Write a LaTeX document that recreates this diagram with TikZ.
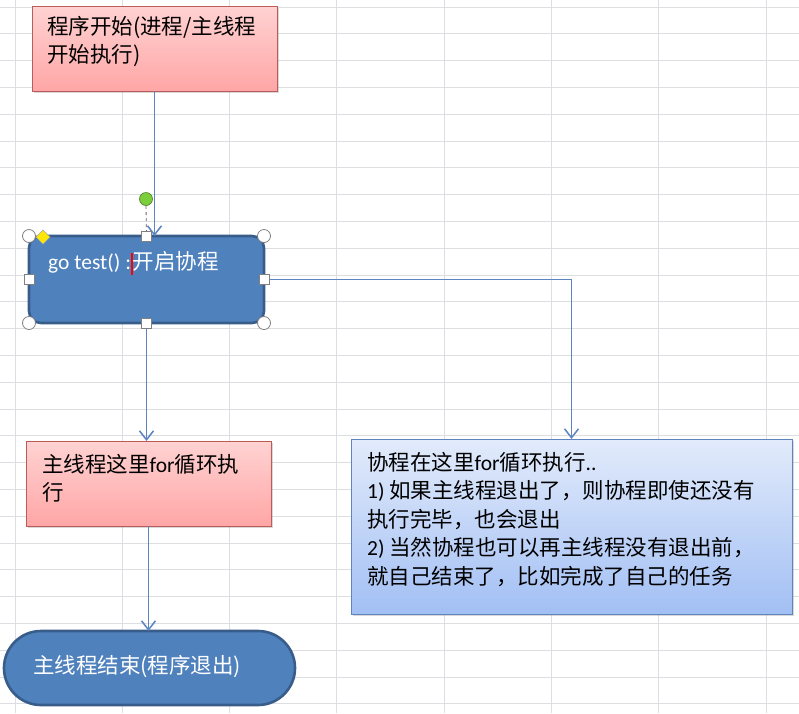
\documentclass[tikz,border=0pt]{standalone}
\usepackage{fontspec}
\setmainfont{Carlito}
\newfontfamily\cjk{Noto Sans CJK SC}
\usepackage{tikz}
\usetikzlibrary{arrows.meta,shadows}
\definecolor{gridgray}{RGB}{220,222,226}
\definecolor{flowline}{RGB}{92,132,192}
\definecolor{pinktop}{RGB}{255,210,210}
\definecolor{pinkbot}{RGB}{255,166,166}
\definecolor{pinkedge}{RGB}{186,92,90}
\definecolor{skytop}{RGB}{226,235,251}
\definecolor{skybot}{RGB}{162,191,244}
\definecolor{skyedge}{RGB}{96,132,190}
\definecolor{shapeblue}{RGB}{79,129,189}
\definecolor{shapeedge}{RGB}{56,93,138}
\definecolor{rotgreen}{RGB}{124,206,60}
\newcommand\lat[1]{{\rmfamily#1}}

\begin{document}
\begin{tikzpicture}[x=1pt,y=-1pt,>={Straight Barb[length=9pt,width=14pt]},
 boxshadow/.style={drop shadow={shadow xshift=2pt,shadow yshift=-2pt,opacity=.3}},
 pinkbox/.style={draw=pinkedge,line width=1pt,top color=pinktop,bottom color=pinkbot,boxshadow,inner sep=0pt,outer sep=0pt,anchor=north west},
 skybox/.style={draw=skyedge,line width=1pt,top color=skytop,bottom color=skybot,boxshadow,inner sep=0pt,outer sep=0pt,anchor=north west},
 bluebox/.style={draw=shapeedge,line width=2.6pt,fill=shapeblue,inner sep=0pt,outer sep=0pt,anchor=north west},
 flow/.style={->,flowline,line width=1.5pt},
 txt/.style={inner sep=0pt,align=left,font=\cjk\fontsize{21.5}{28.5}\selectfont},
 handle/.style={draw=gray,fill=white,line width=.8pt}]
\useasboundingbox (0,0) rectangle (799,713);
\fill[white] (0,0) rectangle (799,713);
\foreach \gx in {0,...,7}
 \draw[gridgray,line width=1pt] ({15+107.3*\gx},0)--({15+107.3*\gx},713);
\foreach \gy in {0,...,26}
 \draw[gridgray,line width=1pt] (0,{7+26.8*\gy})--(799,{7+26.8*\gy});

\node[pinkbox,minimum width=245pt,minimum height=85pt] (start) at (32,6) {};
\node[bluebox,rounded corners=12pt,minimum width=235pt,minimum height=87pt] (gotest) at (29,236) {};
\node[pinkbox,minimum width=245pt,minimum height=85pt] (mainloop) at (26,441) {};
\node[skybox,minimum width=441pt,minimum height=175pt] (goloop) at (351,439) {};
\node[bluebox,rounded corners=37pt,minimum width=291pt,minimum height=74pt] (mainend) at (4,631) {};

\node[txt,anchor=north west] (startlbl) at (47,16) {程序开始(进程/主线程\\开始执行)};
\node[txt,anchor=west,text=white] (gotestlbl) at (48,263)
 {\lat{go test() :}\textcolor{red}{\rule[-5pt]{1.6pt}{22pt}}开启协程};
\node[txt,anchor=north west] (mainlooplbl) at (42,454) {主线程这里\lat{for}循环执\\行};
\node[txt,anchor=north west] (gollooplbl) at (367,452)
 {协程在这里\lat{for}循环执行\lat{..}\\
  \lat{1)} 如果主线程退出了，则协程即使还没有\\
  执行完毕，也会退出\\
  \lat{2)} 当然协程也可以再主线程没有退出前，\\
  就自己结束了，比如完成了自己的任务};
\node[txt,anchor=west,text=white] (mainendlbl) at (33,667) {主线程结束(程序退出)};

\draw[flow] (start.south) -- (start.south |- gotest.north);
\draw[flow] (gotest.south) -- (gotest.south |- mainloop.north);
\draw[flow] (gotest.east) -| (goloop.north);
\draw[flow] (mainloop.south) -- (mainloop.south |- mainend.north);

\draw[gray!80!black,dashed,line width=.8pt] (146,206)--(gotest.north);
\filldraw[fill=rotgreen,draw=rotgreen!60!black,line width=.6pt] (146,199) circle (6.5pt);
\foreach \c in {north west,north east,south west,south east}
 \filldraw[handle] (gotest.\c) circle (6.5pt);
\foreach \c in {north,south,east,west}
 \filldraw[handle] ([xshift=-5pt,yshift=-5pt]gotest.\c) rectangle ++(10pt,10pt);
\filldraw[fill=yellow!90!orange,draw=gray!70] (43,230)--(50,237)--(43,244)--(36,237)--cycle;
\end{tikzpicture}
\end{document}
